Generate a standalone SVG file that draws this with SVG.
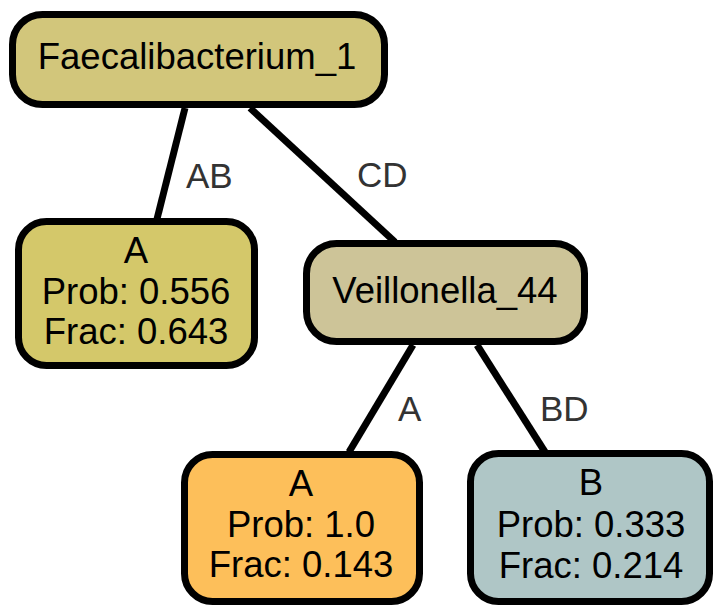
<svg xmlns="http://www.w3.org/2000/svg" width="721" height="613" viewBox="0 0 721 613">
<style>
.box{stroke:#000;stroke-width:7}
.t{font-family:"Liberation Sans",Arial,sans-serif;font-size:36.5px;fill:#000;text-anchor:middle}
.el{font-family:"Liberation Sans",Arial,sans-serif;font-size:35px;fill:#333}
.e{stroke:#000;stroke-width:7;fill:none}
</style>
<rect width="721" height="613" fill="#fff"/>
<g id="edges">
<line class="e" x1="185" y1="108" x2="157" y2="219"/>
<line class="e" x1="250" y1="108" x2="395" y2="242"/>
<line class="e" x1="413" y1="345" x2="349" y2="452"/>
<line class="e" x1="477" y1="345" x2="545" y2="452"/>
<text class="el" x="186" y="188">AB</text>
<text class="el" x="357" y="187">CD</text>
<text class="el" x="398" y="421">A</text>
<text class="el" x="540" y="421">BD</text>
</g>
<g id="root">
<rect class="box" x="12.5" y="14.5" width="372" height="90" rx="30" fill="#d2c67b"/>
<text class="t" x="197" y="69">Faecalibacterium_1</text>
</g>
<g id="leafA1">
<rect class="box" x="18.5" y="221.5" width="236" height="144" rx="28" fill="#d4c86a"/>
<text class="t" x="136" y="263">A</text>
<text class="t" x="136" y="304">Prob: 0.556</text>
<text class="t" x="136" y="344">Frac: 0.643</text>
</g>
<g id="veillonella">
<rect class="box" x="306.5" y="243.5" width="278" height="98" rx="30" fill="#cdc498"/>
<text class="t" x="445" y="303">Veillonella_44</text>
</g>
<g id="leafA2">
<rect class="box" x="184.5" y="454.5" width="235" height="147" rx="28" fill="#fdbf5a"/>
<text class="t" x="301" y="496">A</text>
<text class="t" x="301" y="537">Prob: 1.0</text>
<text class="t" x="301" y="577">Frac: 0.143</text>
</g>
<g id="leafB">
<rect class="box" x="470.5" y="453.5" width="239" height="148" rx="28" fill="#afc6c6"/>
<text class="t" x="591" y="495">B</text>
<text class="t" x="591" y="537">Prob: 0.333</text>
<text class="t" x="591" y="578">Frac: 0.214</text>
</g>
</svg>
